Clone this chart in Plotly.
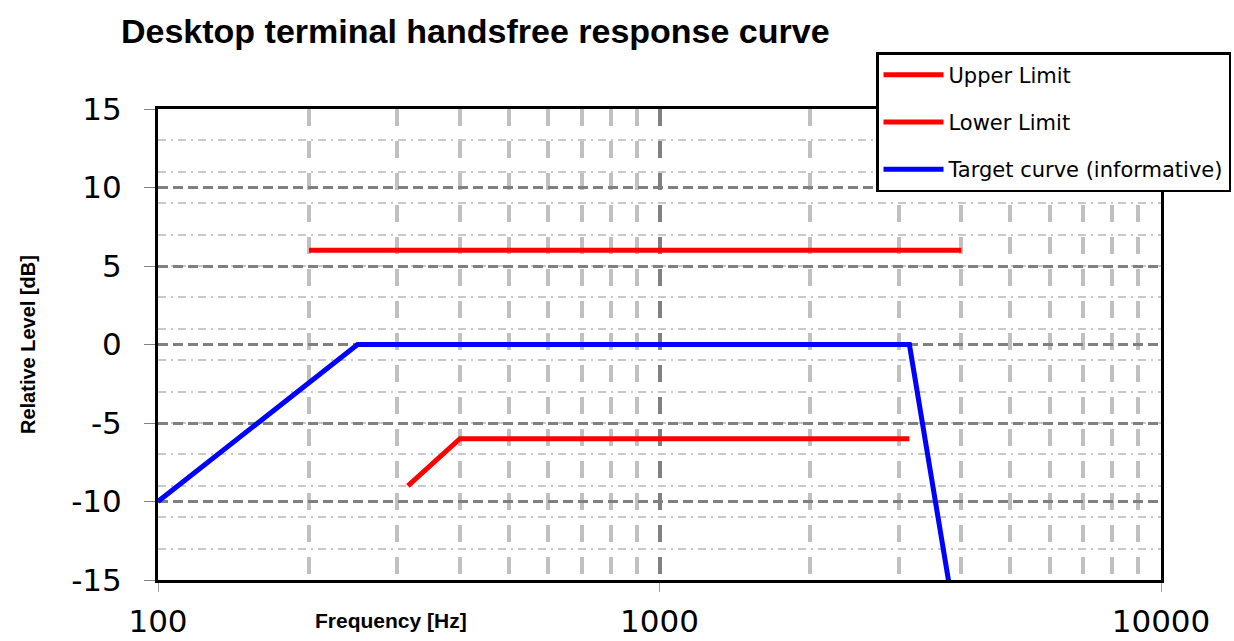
import plotly.graph_objects as go

# Data
upper_freq = [200, 4000]
upper_level = [6, 6]
lower_freq = [315, 400, 3150]
lower_level = [-9, -6, -6]
target_freq = [100, 250, 3150, 4000]
target_level = [-10, 0, 0, -20]

x_ticks = [100, 1000, 10000]
x_labels = ["100", "1000", "10000"]
y_ticks = [-15, -10, -5, 0, 5, 10, 15]
y_labels = ["-15", "-10", "-5", "0", "5", "10", "15"]

W, H = 1234, 641
L, R, T, B = 158, 1161, 109, 580

fig = go.Figure()
fig.add_trace(go.Scatter(x=upper_freq, y=upper_level, mode="lines", name="Upper Limit",
                         line=dict(color="#FF0000", width=5), legendgroup="a"))
fig.add_trace(go.Scatter(x=lower_freq, y=lower_level, mode="lines", name="Lower Limit",
                         line=dict(color="#FF0000", width=5), legendgroup="b"))
fig.add_trace(go.Scatter(x=target_freq, y=target_level, mode="lines", name="Target curve (informative)",
                         line=dict(color="#0000FF", width=5), legendgroup="c"))

tickfont = dict(family="DejaVu Sans", size=31, color="black")

fig.update_layout(
    template="none",
    width=W, height=H,
    margin=dict(l=L, r=W - R, t=T, b=H - B, pad=0, autoexpand=False),
    paper_bgcolor="white", plot_bgcolor="white",
    title=dict(text="<b>Desktop terminal handsfree response curve</b>",
               x=121 / W, xanchor="left", xref="container",
               y=1 - 31 / H, yanchor="middle", yref="container",
               font=dict(family="Liberation Sans", size=34, color="black")),
    showlegend=True,
    legend=dict(x=(876 - L) / (R - L), y=(B - 52) / (B - T), xanchor="left", yanchor="top",
                bgcolor="white", bordercolor="black", borderwidth=2.5,
                font=dict(family="DejaVu Sans", size=21, color="black"),
                traceorder="grouped", tracegroupgap=17, itemwidth=60),
    xaxis=dict(type="log", range=[2, 4], tickvals=x_ticks, ticktext=x_labels,
               tickfont=tickfont, ticks="outside", ticklen=9, tickcolor="#A0A0A0", tickwidth=1,
               showline=True, linecolor="black", linewidth=3, mirror=True,
               showgrid=True, gridcolor="#808080", gridwidth=4, griddash="17px,15px",
               minor=dict(showgrid=True, dtick="D1", gridcolor="#C0C0C0", gridwidth=4,
                          griddash="17px,15px", ticks=""),
               zeroline=False, ticklabelstandoff=3, automargin=False),
    yaxis=dict(range=[-15, 15], tickvals=y_ticks, ticktext=y_labels, tickfont=tickfont,
               ticks="outside", ticklen=11, tickcolor="#808080", tickwidth=1,
               showline=True, linecolor="black", linewidth=3, mirror=True,
               showgrid=True, gridcolor="#808080", gridwidth=3, griddash="10px,5px",
               minor=dict(showgrid=True, tick0=-15, dtick=2, gridcolor="#C8C8C8", gridwidth=1.5,
                          griddash="8px,5px,2px,5px", ticks=""),
               zeroline=False, ticklabelstandoff=16, automargin=False),
    annotations=[
        dict(text="<b>Frequency [Hz]</b>", xref="paper", yref="paper",
             x=(391 - L) / (R - L), y=(B - 620) / (B - T), xanchor="center", yanchor="middle",
             showarrow=False, font=dict(family="Liberation Sans", size=21, color="black")),
        dict(text="<b>Relative Level [dB]</b>", xref="paper", yref="paper",
             x=(28 - L) / (R - L), y=(B - 345) / (B - T), xanchor="center", yanchor="middle",
             textangle=-90, showarrow=False,
             font=dict(family="Liberation Sans", size=20, color="black")),
    ],
)

fig.write_html("out.html", config={"displayModeBar": False},
               post_script="document.body.style.margin='0px';")
